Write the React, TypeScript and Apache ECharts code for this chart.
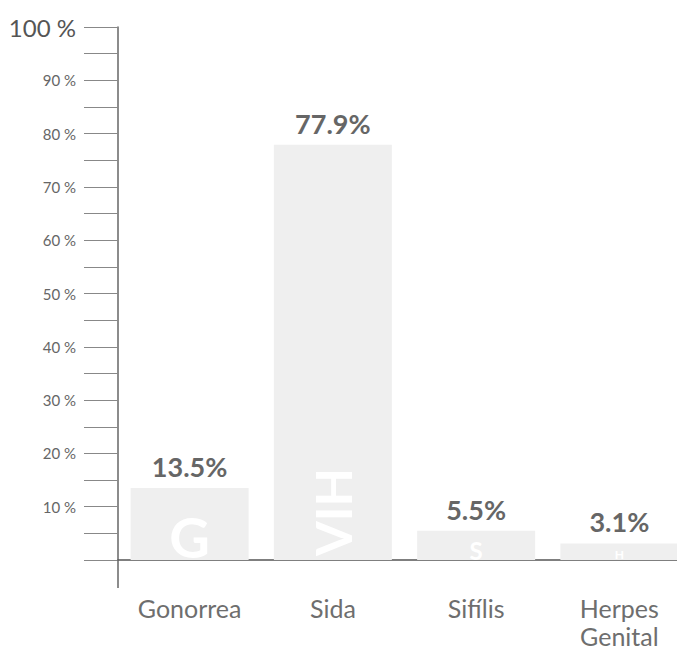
import React, { useEffect, useRef } from "react";
import * as echarts from "echarts";

const categories = ["Gonorrea", "Sida", "Sifílis", "Herpes\nGenital"];
const values = [13.5, 77.9, 5.5, 3.1];
const valueLabels = ["13.5%", "77.9%", "5.5%", "3.1%"];
const barLetters = ["G", "VIH", "S", "H"];
const yTickLabels: Record<number, string> = {
  0: "",
  10: "10 %",
  20: "20 %",
  30: "30 %",
  40: "40 %",
  50: "50 %",
  60: "60 %",
  70: "70 %",
  80: "80 %",
  90: "90 %",
  100: "100 %",
};

const FONT = "Lato, 'Open Sans', sans-serif";

export default function App() {
  const ref = useRef<HTMLDivElement>(null);
  useEffect(() => {
    if (!ref.current) return;
    const chart = echarts.init(ref.current, undefined, { renderer: "svg" });
    const gridLeft = 118;
    const gridTop = 27;
    const gridBottomY = 560;
    chart.setOption({
      animation: false,
      backgroundColor: "#ffffff",
      grid: {
        left: gridLeft,
        width: 573,
        top: gridTop,
        height: gridBottomY - gridTop,
        containLabel: false,
        outerBoundsMode: "none",
      },
      xAxis: {
        type: "category",
        data: categories,
        axisLine: { show: true, lineStyle: { color: "#555", width: 1.5 } },
        axisTick: { show: false },
        axisLabel: {
          interval: 0,
          color: "#6e6e6e",
          fontSize: 25,
          fontFamily: FONT,
          margin: 34,
          lineHeight: 28,
          hideOverlap: false,
        },
      },
      yAxis: {
        type: "value",
        min: 0,
        max: 100,
        interval: 10,
        splitLine: { show: false },
        axisLine: { show: true, lineStyle: { color: "#666", width: 1.5 } },
        axisTick: { show: true, length: 34, lineStyle: { color: "#888", width: 1 } },
        minorTick: { show: true, splitNumber: 2, length: 34, lineStyle: { color: "#888", width: 1 } },
        axisLabel: {
          margin: 42,
          fontFamily: FONT,
          formatter: (v: number) => {
            const s = yTickLabels[v] ?? "";
            return v === 100 ? "{big|" + s + "}" : "{sm|" + s + "}";
          },
          rich: {
            big: { fontSize: 24, color: "#555", fontFamily: FONT },
            sm: { fontSize: 15, color: "#666", fontFamily: FONT },
          },
        },
      },
      series: [
        {
          type: "bar",
          data: values,
          barWidth: 118,
          itemStyle: { color: "#efefef" },
          label: {
            show: true,
            position: "top",
            distance: 8,
            color: "#666",
            fontSize: 27,
            fontWeight: "bold",
            fontFamily: FONT,
            formatter: (p: any) => valueLabels[p.dataIndex],
          },
          z: 2,
        },
        {
          type: "bar",
          data: values.map((v, i) => ({
            value: v,
            label:
              i === 1
                ? { rotate: 90, fontSize: 50, position: "insideBottom", align: "left", verticalAlign: "middle", distance: 4 }
                : i === 0
                ? { fontSize: 56, position: "insideBottom", distance: -4 }
                : i === 2
                ? { fontSize: 24, position: "insideBottom", distance: -2 }
                : { fontSize: 12, position: "insideBottom", distance: 0 },
          })),
          barWidth: 118,
          barGap: "-100%",
          itemStyle: { color: "rgba(0,0,0,0)" },
          label: {
            show: true,
            color: "#ffffff",
            fontWeight: "bold",
            fontFamily: FONT,
            formatter: (p: any) => barLetters[p.dataIndex],
          },
          z: 3,
          silent: true,
        },
      ],
      graphic: [
        {
          type: "line",
          shape: { x1: gridLeft, y1: gridBottomY, x2: gridLeft, y2: 588 },
          style: { stroke: "#666", lineWidth: 1.5 },
          z: 100,
        },
      ],
    });
    return () => chart.dispose();
  }, []);
  return <div ref={ref} style={{ width: 677, height: 651, position: "fixed", left: 0, top: 0, overflow: "hidden" }} />;
}
